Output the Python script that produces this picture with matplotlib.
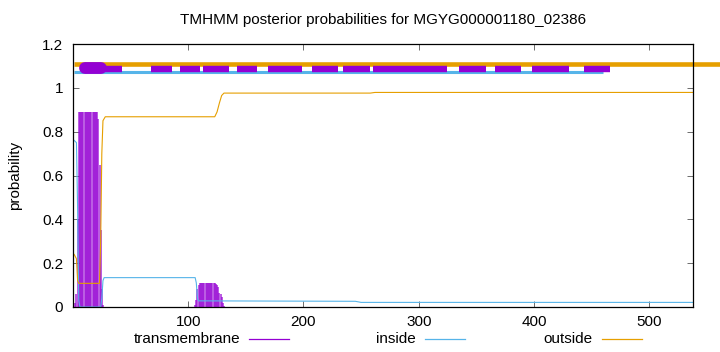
import numpy as np
import matplotlib.pyplot as plt
from matplotlib.lines import Line2D

plt.rcParams['font.family'] = ['Liberation Sans', 'DejaVu Sans']
plt.rcParams['font.size'] = 11

# Posição dos resíduos (proteína de 538 aa)
seq_len = 538

# Probabilidade de transmembrana (impulsos), regiões com valor > 0
tm_pos = [2, 3, 4, 5, 6, 7, 8, 9, 10, 11, 12, 13, 14, 15, 16, 17, 18, 19, 20, 21,
          22, 23, 24, 25, 26,
          106, 107, 108, 109, 110, 111, 112, 113, 114, 115, 116, 117, 118, 119, 120,
          121, 122, 123, 124, 125, 126, 127, 128, 129, 130, 131]
tm_val = [0.02, 0.06, 0.40, 0.89, 0.89, 0.89, 0.89, 0.89, 0.89, 0.89, 0.89, 0.89, 0.89, 0.89,
          0.89, 0.89, 0.89, 0.89, 0.89, 0.89, 0.86, 0.65, 0.35, 0.08, 0.01,
          0.01, 0.03, 0.08, 0.10, 0.108, 0.108, 0.108, 0.108, 0.108, 0.108, 0.108, 0.108,
          0.108, 0.108, 0.108, 0.108, 0.108, 0.108, 0.105, 0.10, 0.09, 0.065, 0.06, 0.045,
          0.02, 0.005]

# Probabilidade "inside"
in_x = [1, 3, 4, 5, 6, 24, 25, 26, 27, 106, 107, 108, 109, 245, 250, 538]
in_y = [0.76, 0.75, 0.45, 0.03, 0.0, 0.0, 0.04, 0.12, 0.134, 0.134, 0.11, 0.04, 0.028,
        0.026, 0.021, 0.021]

# Probabilidade "outside"
out_x = [1, 3, 4, 5, 23, 24, 25, 26, 28, 123, 125, 127, 129, 131, 258, 262, 538]
out_y = [0.24, 0.22, 0.12, 0.108, 0.108, 0.3, 0.7, 0.85, 0.868, 0.868, 0.89, 0.93, 0.965,
         0.976, 0.976, 0.979, 0.979]

# Segmentos da predição no topo
tm_segs = [(20, 42.5), (68, 86), (92.5, 110), (113, 135.5), (142.7, 159.8),
           (169.6, 199.1), (207.8, 229.8), (234.6, 257.8), (260.1, 324.3), (335, 358.4),
           (366, 388.7), (398, 430.6), (443.6, 465.6)]
tm_blob = (10, 24.5)
in_seg = (1, 460)
out_seg = (1, 562)

purple = '#9400D3'
blue = '#56B4E9'
orange = '#E69F00'

fig = plt.figure(figsize=(7.2, 3.52), dpi=100)
ax = fig.add_axes([73 / 720, 45 / 352, 620 / 720, 263 / 352])

# Curvas
ax.vlines(tm_pos, 0, tm_val, color=purple, lw=1.4, alpha=0.65)
ax.plot(in_x, in_y, color=blue, lw=0.8)
ax.plot(out_x, out_y, color=orange, lw=0.8)

# Linhas da predição
ax.plot(out_seg, [1.109, 1.109], color=orange, lw=3.3, clip_on=False, solid_capstyle='butt')
ax.plot(in_seg, [1.071, 1.071], color=blue, lw=2.2, solid_capstyle='butt')
for a, b in tm_segs:
    ax.plot([a, b], [1.087, 1.087], color=purple, lw=4.6, solid_capstyle='butt')
ax.plot(tm_blob, [1.09, 1.09], color=purple, lw=8.5, solid_capstyle='round')

ax.set_xlim(0, seq_len)
ax.set_ylim(0, 1.2)
ax.set_xticks([100, 200, 300, 400, 500])
ax.set_yticks([0, 0.2, 0.4, 0.6, 0.8, 1.0, 1.2])
ax.set_yticklabels(['0', '0.2', '0.4', '0.6', '0.8', '1', '1.2'])
ax.tick_params(direction='in', length=4, width=0.6, top=True, right=True, color='#555555')
ax.tick_params(axis='y', pad=7)
ax.tick_params(axis='x', pad=6)
for s in ax.spines.values():
    s.set_linewidth(0.9)

fig.text(383 / 720, 1 - 20 / 352, 'TMHMM posterior probabilities for MGYG000001180_02386',
         ha='center', va='center')
fig.text(15 / 720, 1 - 175 / 352, 'probability', rotation=90, ha='center', va='center')

# Legenda
ly = 1 - 339 / 352
for label, color, xt, x0, x1 in [('transmembrane', purple, 240, 249, 289),
                                  ('inside', blue, 416, 425, 465),
                                  ('outside', orange, 592, 602, 642)]:
    fig.text(xt / 720, ly, label, ha='right', va='center')
    fig.add_artist(Line2D([x0 / 720, x1 / 720], [ly, ly], color=color, lw=0.9))

fig.savefig('out.png', dpi=100)
